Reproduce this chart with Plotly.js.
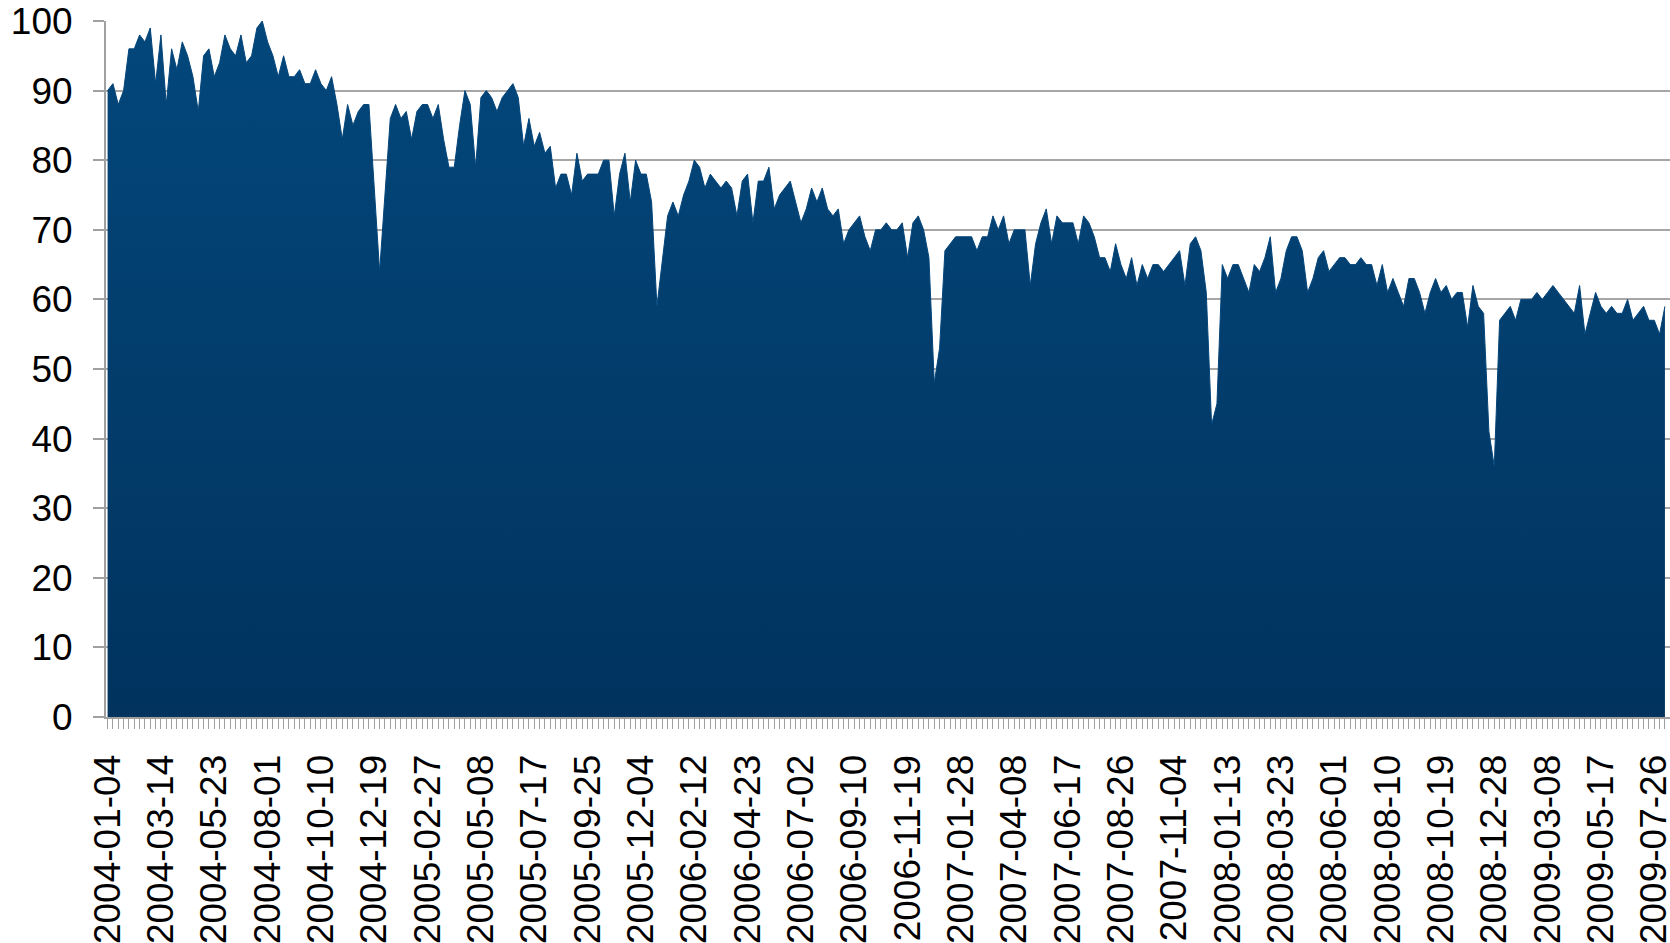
<!DOCTYPE html>
<html>
<head>
<meta charset="utf-8">
<script src="https://cdn.plot.ly/plotly-3.0.1.min.js"></script>
<style>
  html, body { margin: 0; padding: 0; background: #ffffff; }
  #chart { width: 1670px; height: 943px; }
</style>
</head>
<body>
<div id="chart"></div>
<script>
// First week of the series (weekly categories)
const firstWeek = '2004-01-04';

// Labelled category ticks (every 10th week)
const tickLabels = [
  '2004-01-04','2004-03-14','2004-05-23','2004-08-01','2004-10-10','2004-12-19',
  '2005-02-27','2005-05-08','2005-07-17','2005-09-25','2005-12-04',
  '2006-02-12','2006-04-23','2006-07-02','2006-09-10','2006-11-19',
  '2007-01-28','2007-04-08','2007-06-17','2007-08-26','2007-11-04',
  '2008-01-13','2008-03-23','2008-06-01','2008-08-10','2008-10-19','2008-12-28',
  '2009-03-08','2009-05-17','2009-07-26'
];

// Weekly index values
const values2004 = [90,91,88,90,96,96,98,97,99,91,98,88,96,93,97,95,92,87,95,96,
  92,94,98,96,95,98,94,95,99,100,97,95,92,95,92,92,93,91,91,93,
  91,90,92,88,83,88,85,87,88,88,76,64];
const values2005 = [75,86,88,86,87,83,87,88,88,86,88,83,79,79,85,90,88,79,89,90,
  89,87,89,90,91,89,82,86,82,84,81,82,76,78,78,75,81,77,78,78,
  78,80,80,72,78,81,74,80,78,78,74,59];
const values2006 = [66,72,74,72,75,77,80,79,76,78,77,76,77,76,72,77,78,71,77,77,
  79,73,75,76,77,74,71,73,76,74,76,73,72,73,68,70,71,72,69,67,
  70,70,71,70,70,71,66,71,72,70,66,48,53];
const values2007 = [67,68,69,69,69,69,67,69,69,72,70,72,68,70,70,70,62,68,71,73,
  68,72,71,71,71,68,72,71,69,66,66,64,68,65,63,66,62,65,63,65,
  65,64,65,66,67,62,68,69,67,61,42,45];
const values2008 = [65,63,65,65,63,61,65,64,66,69,61,63,67,69,69,67,61,63,66,67,
  64,65,66,66,65,65,66,65,65,62,65,61,63,61,59,63,63,61,58,61,
  63,61,62,60,61,61,56,62,59,58,41,36];
const values2009 = [57,58,59,57,60,60,60,61,60,61,62,61,60,59,58,62,55,58,61,59,
  58,59,58,58,60,57,58,59,57,57,55,59];

const values = [].concat(values2004, values2005, values2006, values2007, values2008, values2009);

// Weekly category labels
const weeks = values.map(function (_, i) {
  const t = Date.parse(firstWeek + 'T00:00:00Z') + i * 7 * 86400000;
  return new Date(t).toISOString().slice(0, 10);
});

const trace = {
  type: 'scatter',
  mode: 'lines',
  x: weeks,
  y: values,
  fill: 'tozeroy',
  line: { color: '#03457a', width: 1 },
  fillgradient: {
    type: 'vertical',
    start: 0,
    stop: 100,
    colorscale: [[0, '#01335e'], [1, '#03477b']]
  },
  hoverinfo: 'skip',
  showlegend: false
};

const font = { family: '"Liberation Sans", Arial, sans-serif', size: 37, color: '#000000' };

const layout = {
  width: 1670,
  height: 943,
  margin: { l: 106, r: 0, t: 21, b: 226, pad: 0 },
  paper_bgcolor: '#ffffff',
  plot_bgcolor: '#ffffff',
  showlegend: false,
  xaxis: {
    type: 'category',
    range: [-0.3, 292.95],
    tickmode: 'array',
    tickvals: weeks,
    ticktext: weeks.map(function (w) { return tickLabels.indexOf(w) >= 0 ? w : ''; }),
    tickangle: -90,
    ticks: 'outside',
    ticklen: 10,
    tickwidth: 1,
    tickcolor: '#a0a0a0',
    ticklabelstandoff: 11,
    showline: true,
    linecolor: '#a0a0a0',
    linewidth: 2,
    showgrid: false,
    zeroline: false,
    tickfont: font,
    fixedrange: true
  },
  yaxis: {
    range: [0, 100],
    tickmode: 'array',
    tickvals: [0, 10, 20, 30, 40, 50, 60, 70, 80, 90, 100],
    ticktext: ['0', '10', '20', '30', '40', '50', '60', '70', '80', '90', '100'],
    ticks: 'outside',
    ticklen: 11,
    tickwidth: 2,
    tickcolor: '#a0a0a0',
    ticklabelstandoff: 13,
    showline: true,
    linecolor: '#a0a0a0',
    linewidth: 2,
    showgrid: true,
    gridcolor: '#a6a6a6',
    gridwidth: 2,
    zeroline: false,
    tickfont: font,
    fixedrange: true
  }
};

Plotly.newPlot('chart', [trace], layout, { displayModeBar: false, staticPlot: true });
</script>
</body>
</html>
